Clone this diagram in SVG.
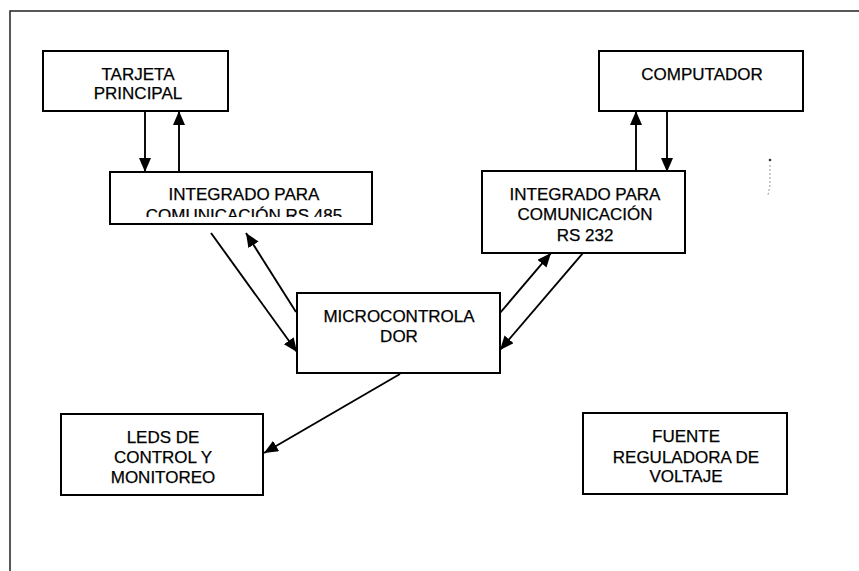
<svg xmlns="http://www.w3.org/2000/svg" width="859" height="571" viewBox="0 0 859 571">
<style>
  .box { fill: #fff; stroke: #000; stroke-width: 2; }
  .lbl { font-family: "Liberation Sans", Arial, sans-serif; font-size: 17px; fill: #000; stroke: #000; stroke-width: 0.25; text-anchor: middle; }
  .conn { stroke: #000; stroke-width: 1.9; fill: none; marker-end: url(#arr); }
  .frame { stroke: #222; stroke-width: 1.5; fill: none; }
</style>
<defs>
  <marker id="arr" markerUnits="userSpaceOnUse" markerWidth="16" markerHeight="14" refX="14" refY="6" orient="auto">
    <path d="M0,0 L14,6 L0,12 z" fill="#000"/>
  </marker>
  <clipPath id="clip485">
    <rect x="111" y="173" width="260" height="44"/>
  </clipPath>
</defs>
<rect width="859" height="571" fill="#fff"/>
<path class="frame" d="M10,571 L10,11 L859,11"/>
<g id="artifact" stroke="#555" fill="none">
  <circle cx="770" cy="160" r="1.3" fill="#333" stroke="none"/>
  <path d="M770,165 L770,185 L768,195" stroke-width="0.6" stroke-dasharray="2,2"/>
</g>
<g id="connectors">
  <line class="conn" x1="145" y1="111" x2="145" y2="172"/>
  <line class="conn" x1="179" y1="172" x2="179" y2="111"/>
  <line class="conn" x1="636" y1="172" x2="636" y2="111"/>
  <line class="conn" x1="667" y1="111" x2="667" y2="172"/>
  <line class="conn" x1="211" y1="233" x2="297" y2="352"/>
  <line class="conn" x1="296" y1="312" x2="246" y2="233"/>
  <line class="conn" x1="500" y1="313" x2="551" y2="253"/>
  <line class="conn" x1="583" y1="253" x2="500" y2="350"/>
  <line class="conn" x1="400" y1="374" x2="264" y2="453"/>
</g>
<g id="tarjeta">
  <rect class="box" x="43" y="51" width="185" height="60"/>
  <text class="lbl" x="138" y="80">TARJETA</text>
  <text class="lbl" x="138" y="99">PRINCIPAL</text>
</g>
<g id="computador">
  <rect class="box" x="599" y="51" width="204" height="60"/>
  <text class="lbl" x="702" y="80">COMPUTADOR</text>
</g>
<g id="rs485">
  <rect class="box" x="110" y="172" width="262" height="52"/>
  <text class="lbl" x="244" y="200">INTEGRADO PARA</text>
  <text class="lbl" x="244" y="221" clip-path="url(#clip485)">COMUNICACIÓN RS 485</text>
</g>
<g id="rs232">
  <rect class="box" x="482" y="171" width="203" height="82"/>
  <text class="lbl" x="585" y="200">INTEGRADO PARA</text>
  <text class="lbl" x="585" y="220">COMUNICACIÓN</text>
  <text class="lbl" x="585" y="241">RS 232</text>
</g>
<g id="micro">
  <rect class="box" x="297" y="293" width="203" height="80"/>
  <text class="lbl" x="399" y="322">MICROCONTROLA</text>
  <text class="lbl" x="399" y="342">DOR</text>
</g>
<g id="leds">
  <rect class="box" x="61" y="414" width="202" height="81"/>
  <text class="lbl" x="163" y="443">LEDS DE</text>
  <text class="lbl" x="163" y="463">CONTROL Y</text>
  <text class="lbl" x="163" y="483">MONITOREO</text>
</g>
<g id="fuente">
  <rect class="box" x="583" y="413" width="204" height="81"/>
  <text class="lbl" x="686" y="442">FUENTE</text>
  <text class="lbl" x="686" y="463">REGULADORA DE</text>
  <text class="lbl" x="686" y="482">VOLTAJE</text>
</g>
</svg>
